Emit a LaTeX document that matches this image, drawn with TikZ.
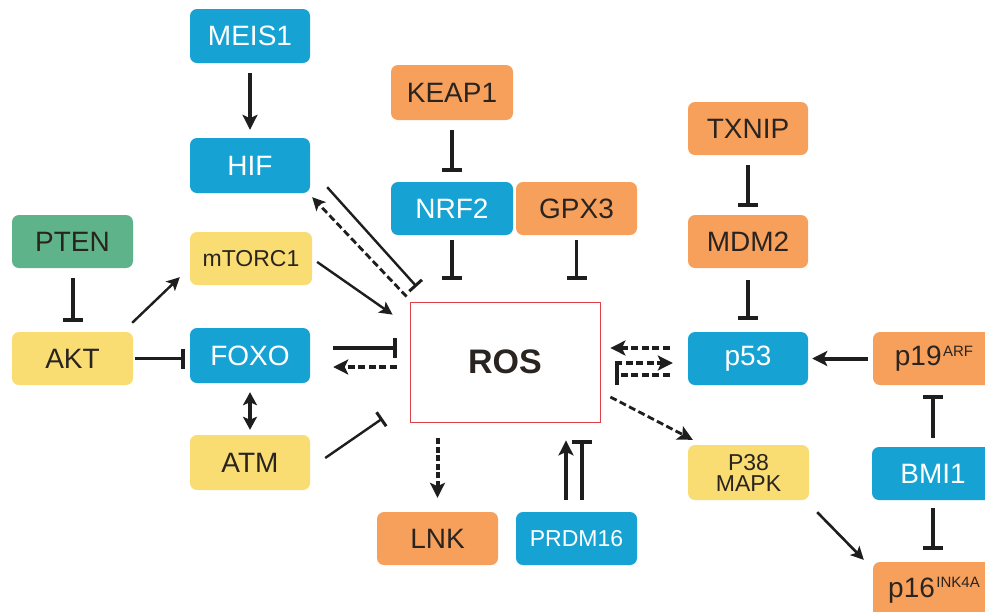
\documentclass[tikz,border=0pt]{standalone}
\usepackage{fontspec}
\setmainfont{Liberation Sans}
\usetikzlibrary{arrows.meta}
\definecolor{cblue}{HTML}{16A3D3}
\definecolor{corange}{HTML}{F6A05C}
\definecolor{cyellow}{HTML}{F9DC72}
\definecolor{cgreen}{HTML}{5FB38A}
\definecolor{ctext}{HTML}{2A2420}
\definecolor{cros}{HTML}{E0404A}
\definecolor{cline}{HTML}{1E1E1E}
\begin{document}
\begin{tikzpicture}[x=1pt,y=-1pt,
  box/.style={rounded corners=7pt, inner sep=0pt, align=center, minimum width=121pt, minimum height=53pt, font=\fontsize{28}{30}\selectfont},
  bluebox/.style={box, fill=cblue, text=white},
  orangebox/.style={box, fill=corange, text=ctext},
  yellowbox/.style={box, fill=cyellow, text=ctext},
  greenbox/.style={box, fill=cgreen, text=ctext},
  smalltext/.style={font=\fontsize{23}{24}\selectfont},
  act/.style={draw=cline, line width=3.2pt, -{Stealth[length=15pt,width=15pt,inset=3.5pt]}},
  actthin/.style={draw=cline, line width=2.4pt, -{Stealth[length=13pt,width=13pt,inset=3pt]}},
  inh/.style={draw=cline, line width=3.6pt, -{Bar[width=20pt,line width=4pt]}},
  inhthin/.style={draw=cline, line width=2.4pt, -{Bar[width=17pt,line width=3pt]}},
  dsh/.style={dash pattern=on 7pt off 3.5pt},
]
\path[use as bounding box] (0,0) rectangle (985,611);
\clip (0,0) rectangle (985,611);
\fill[white] (0,0) rectangle (985,611);

% nodes
\node[bluebox, minimum width=120pt, minimum height=54pt] (meis1) at (250,36) {MEIS1};
\node[bluebox, minimum width=120pt, minimum height=55pt] (hif) at (250,165.5) {HIF};
\node[orangebox, minimum width=122pt, minimum height=55pt] (keap1) at (452,92.5) {KEAP1};
\node[bluebox, minimum width=122pt] (nrf2) at (452,208.5) {NRF2};
\node[orangebox] (gpx3) at (576.5,208.5) {GPX3};
\node[orangebox, minimum width=120pt] (txnip) at (748,128.5) {TXNIP};
\node[orangebox, minimum width=120pt] (mdm2) at (748,241.5) {MDM2};
\node[greenbox] (pten) at (72.5,241.5) {PTEN};
\node[yellowbox, smalltext, minimum width=122pt] (mtorc1) at (251,258.5) {mTORC1};
\node[yellowbox] (akt) at (72.5,358.5) {AKT};
\node[bluebox, minimum width=120pt, minimum height=55pt] (foxo) at (250,355.5) {FOXO};
\node[yellowbox, minimum width=120pt, minimum height=55pt] (atm) at (250,462.5) {ATM};
\node[draw=cros, line width=0.8pt, fill=white, minimum width=190pt, minimum height=120pt, inner sep=0pt,
      font=\bfseries\fontsize{34}{36}\selectfont, text=ctext] (ros) at (505,362) {ROS};
\node[bluebox, minimum width=120pt] (p53) at (748,358.5) {p53};
\node[orangebox, minimum width=122pt] (p19) at (934,358.5) {p19\kern1.5pt\raisebox{9.5pt}{\fontsize{15}{15}\selectfont ARF}};
\node[yellowbox, smalltext, minimum width=121pt, minimum height=55pt] (p38) at (748.5,472.5) {P38\\[-3pt]MAPK};
\node[bluebox, minimum width=122pt] (bmi1) at (933,473.5) {BMI1};
\node[orangebox, minimum width=122pt, minimum height=56pt] (p16) at (934,590) {p16\kern1.5pt\raisebox{9.5pt}{\fontsize{15}{15}\selectfont INK4A}};
\node[orangebox] (lnk) at (437.5,538.5) {LNK};
\node[bluebox, smalltext] (prdm16) at (576.5,538.5) {PRDM16};

% connectors
\draw[act, shorten <=10pt, shorten >=8pt] (meis1.south) -- (hif.north);
\draw[inh, shorten <=10pt, shorten >=10pt] (keap1.south) -- (nrf2.north);
\draw[inh, shorten <=5pt, shorten >=22pt] (nrf2.south) -- (nrf2.south |- ros.north);
\draw[inh, shorten <=5pt, shorten >=22pt] (gpx3.south) -- (gpx3.south |- ros.north);
\draw[inh, shorten <=10pt, shorten >=8pt] (txnip.south) -- (mdm2.north);
\draw[inh, shorten <=12pt, shorten >=12pt] (mdm2.south) -- (p53.north);
\draw[inh, line width=4pt, shorten <=10pt, shorten >=10pt] (pten.south) -- (akt.north);
\draw[actthin] ([xshift=-1pt,yshift=9pt]akt.north east) -- ([xshift=-10pt,yshift=8pt]mtorc1.south west);
\draw[inh, shorten <=2pt, shorten >=5pt] (akt.east) -- (akt.east -| foxo.west);
\draw[actthin, shorten <=6pt] (mtorc1.east) -- ([xshift=-17pt,yshift=-13pt]ros.north west);
\draw[inhthin] ([xshift=17pt,yshift=6pt]hif.south east) -- ([xshift=7pt,yshift=15pt]ros.north west);
\draw[actthin, line width=2.8pt, dsh] ([xshift=-3pt,yshift=5pt]ros.north west) -- ([xshift=2pt,yshift=-4pt]hif.south east);
\draw[inh, shorten <=23pt, shorten >=13pt] ([yshift=7.5pt]foxo.east) -- ([yshift=7.5pt]foxo.east -| ros.west);
\draw[act, dsh, shorten <=13pt, shorten >=23pt] ([yshift=-11.5pt]foxo.east -| ros.west) -- ([yshift=-11.5pt]foxo.east);
\draw[inhthin] ([xshift=15pt,yshift=4.5pt]atm.east) -- ([xshift=-27pt,yshift=4pt]ros.south west);
\draw[draw=cline, line width=3.6pt, {Stealth[length=13pt,width=14pt,inset=3pt]}-{Stealth[length=13pt,width=14pt,inset=3pt]}, shorten <=9pt, shorten >=5pt] (foxo.south) -- (atm.north);
\draw[act, dsh, shorten <=18pt, shorten >=10pt] ([yshift=10.5pt]p53.west) -- ([yshift=10.5pt]p53.west -| ros.east);
\draw[act, dsh, shorten <=15pt, shorten >=15pt] ([yshift=-4.5pt]p53.west -| ros.east) -- ([yshift=-4.5pt]p53.west);
\draw[inh, dsh, shorten <=18pt, shorten >=15pt] ([yshift=-16.5pt]p53.west) -- ([yshift=-16.5pt]p53.west -| ros.east);
\draw[act, line width=2.8pt, dsh] ([xshift=10pt,yshift=-35pt]ros.east) -- ([xshift=5pt,yshift=5pt]p38.north west);
\draw[act, line width=4pt, dash pattern=on 6pt off 2.5pt, shorten <=16pt, shorten >=14pt] (lnk.north |- ros.south) -- (lnk.north);
\draw[act, shorten <=12pt, shorten >=18pt] ([xshift=-10.5pt]prdm16.north) -- ([xshift=-10.5pt]prdm16.north |- ros.south);
\draw[inh, shorten <=12pt, shorten >=18pt] ([xshift=5.5pt]prdm16.north) -- ([xshift=5.5pt]prdm16.north |- ros.south);
\draw[act, line width=4pt, shorten <=5pt, shorten >=4pt] (p19.west) -- (p19.west -| p53.east);
\draw[inh, shorten <=9pt, shorten >=10pt] (bmi1.north) -- (bmi1.north |- p19.south);
\draw[inh, shorten <=8pt, shorten >=12pt] (bmi1.south) -- (bmi1.south |- p16.north);
\draw[actthin, line width=2.6pt] ([xshift=8pt,yshift=-12pt]p38.south east) -- ([xshift=-9pt,yshift=2pt]p16.north west);
\end{tikzpicture}
\end{document}
